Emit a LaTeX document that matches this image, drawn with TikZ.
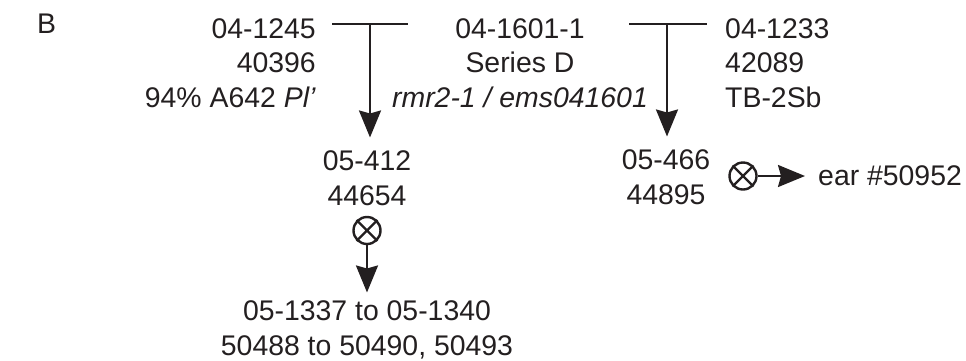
\documentclass[tikz,border=0pt]{standalone}
\usepackage{fontspec}
\setmainfont{Liberation Sans}
\usetikzlibrary{arrows.meta}
\definecolor{ink}{HTML}{231F20}
\begin{document}
\begin{tikzpicture}[x=1pt,y=-1pt,
  lbl/.style={inner sep=0pt, text=ink, font=\fontsize{28.4}{34.5}\selectfont},
  bar/.style={draw=ink, line width=2.3pt},
  arr/.style={draw=ink, line width=2.3pt, -{Stealth[length=27pt,width=22pt,inset=3pt]}},
  otimes/.style={draw=ink, line width=2.4pt, circle, minimum size=27pt, inner sep=0pt}]
\useasboundingbox (0,0) rectangle (966,360);
\node[lbl, anchor=base west] (B) at (37,33) {B};
\node[lbl, anchor=base east, align=right] (p1) at (316,107) {04-1245\\40396\\94\% A642 \textit{Pl’}};
\node[lbl, anchor=base, align=center] (p2) at (520,107) {04-1601-1\\Series D\\\textit{rmr2-1 / ems041601}};
\node[lbl, anchor=base west, align=left] (p3) at (725,107) {04-1233\\42089\\TB-2Sb};
\node[lbl, anchor=base, align=center] (c1) at (367,205) {05-412\\44654};
\node[lbl, anchor=base, align=center] (c3) at (666,204) {05-466\\44895};
\node[lbl, anchor=base, align=center] (c2) at (367,355) {05-1337 to 05-1340\\50488 to 50490, 50493};
\node[lbl, anchor=base west] (ear) at (818,185) {ear \#50952};
\node[otimes] (o1) at (367,230.5) {};
\node[otimes] (o2) at (743,176) {};
\foreach \o in {o1,o2}{
  \draw[ink, line width=2.2pt] (\o.north east) -- (\o.south west) (\o.north west) -- (\o.south east);
}
\coordinate (j1) at (370,24);
\coordinate (j2) at (667,24);
\coordinate (b1l) at (332,24);
\coordinate (b1r) at (408,24);
\coordinate (b2l) at (629,24);
\coordinate (b2r) at (707,24);
\draw[bar] (b1l) -- (b1r);
\draw[bar] (b2l) -- (b2r);
\draw[arr, shorten >=13pt] (j1) -- (j1 |- c1.north);
\draw[arr, shorten >=13pt] (j2) -- (j2 |- c3.north);
\draw[arr, shorten >=8pt] (o1.south) -- (o1.south |- c2.north);
\draw[arr, shorten >=13pt] (o2.east) -- (o2.east -| ear.west);
\end{tikzpicture}
\end{document}
